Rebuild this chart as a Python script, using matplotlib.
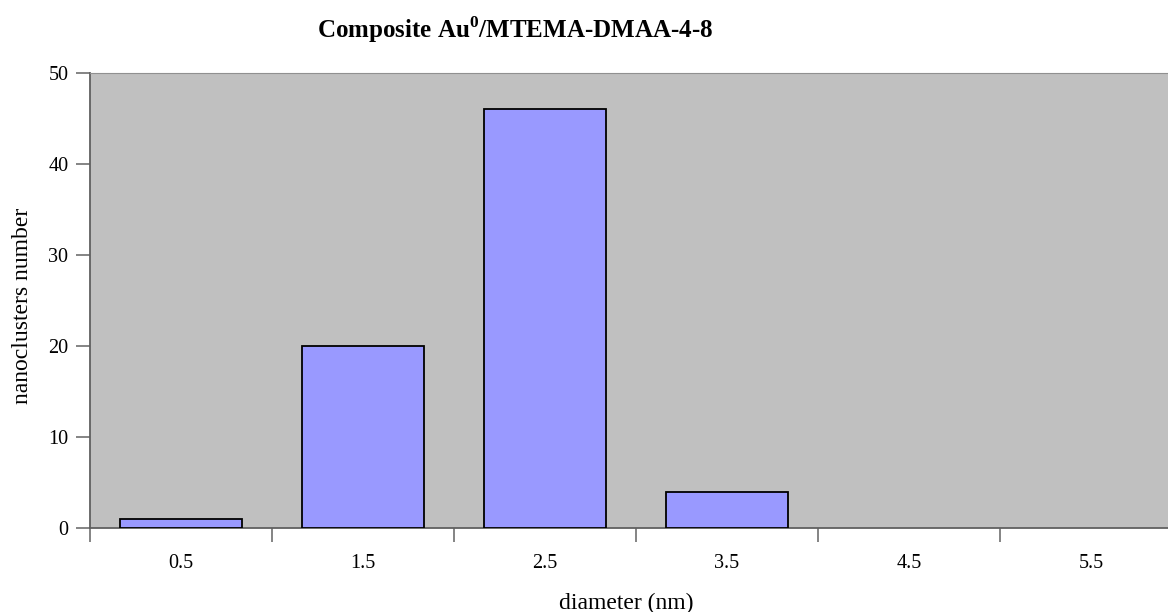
import numpy as np
import matplotlib.pyplot as plt

# nanocluster size distribution
diameters = ['0.5', '1.5', '2.5', '3.5', '4.5', '5.5']
counts = [1, 20, 46, 4, 0, 0]

plt.rcParams['font.family'] = 'Liberation Serif'
plt.rcParams['mathtext.fontset'] = 'custom'
plt.rcParams['mathtext.rm'] = 'Liberation Serif'
plt.rcParams['mathtext.bf'] = 'Liberation Serif:bold'

W, H = 1168, 612
fig = plt.figure(figsize=(W/100, H/100), dpi=100)
ax = fig.add_axes([90/W, 1 - 528/H, 1092/W, 455/H])
ax.set_facecolor('#c0c0c0')

x = np.arange(len(counts)) + 0.5
edges = ['black' if c > 0 else 'none' for c in counts]
ax.bar(x, counts, width=0.67, color='#9999ff', edgecolor=edges, linewidth=1.3, zorder=3)

ax.set_xlim(0, 6)
ax.set_ylim(0, 50)
ax.set_yticks(range(0, 51, 10))
ax.set_xticks(range(0, 7))
ax.set_xticklabels([])
ax.set_xticks(x, minor=True)
ax.set_xticklabels(diameters, minor=True)
ax.tick_params(axis='x', which='minor', length=0, pad=19, labelsize=14.5)
ax.tick_params(axis='x', which='major', length=10, width=1.2, color='#707070')
ax.tick_params(axis='y', length=10, width=1.2, color='#707070', labelsize=14.5, pad=5.5)

for s in ['left', 'bottom']:
    ax.spines[s].set_color('#606060')
    ax.spines[s].set_linewidth(1.3)
ax.spines['top'].set_color('#909090')
ax.spines['right'].set_visible(False)

fig.text(23/W, 1 - 306/H, 'nanoclusters number', rotation=90,
         ha='center', va='center', fontsize=17)
fig.text(626/W, 1 - 609/H, 'diameter (nm)', ha='center', va='baseline', fontsize=17)

fig.text(317/W, 1 - 38/H, r'Composite Au$^{\mathbf{0}}$/MTEMA-DMAA-4-8',
         ha='left', va='baseline', fontsize=18, fontweight='bold')

plt.savefig('out.png', dpi=100)
